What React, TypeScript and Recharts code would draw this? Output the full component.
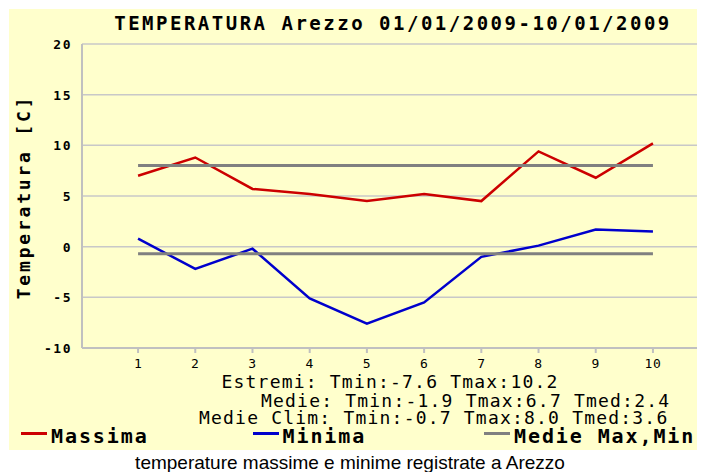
import { LineChart, Line, XAxis, YAxis, CartesianGrid, Legend } from "recharts";

// giorni 01/01/2009 - 10/01/2009
const giorni = [1, 2, 3, 4, 5, 6, 7, 8, 9, 10];
const massima = [7.0, 8.8, 5.7, 5.2, 4.5, 5.2, 4.5, 9.4, 6.8, 10.2];
const minima = [0.8, -2.2, -0.2, -5.1, -7.6, -5.5, -1.0, 0.1, 1.7, 1.5];
// medie climatiche
const medieClimMax = 8.0;
const medieClimMin = -0.7;
const yTicks = [-10, -5, 0, 5, 10, 15, 20];
const ordineLegenda = ["Massima", "Minima", "Medie Max,Min"];

const righeInfo = [
  "Estremi: Tmin:-7.6 Tmax:10.2",
  "Medie: Tmin:-1.9 Tmax:6.7 Tmed:2.4",
  "Medie Clim: Tmin:-0.7 Tmax:8.0 Tmed:3.6",
];

const data = giorni.map((g, i) => ({
  giorno: g,
  massima: massima[i],
  minima: minima[i],
  medieMax: medieClimMax,
  medieMin: medieClimMin,
}));

const mono = '"DejaVu Sans Mono", monospace';
const panelBg = "#FFFFCC";
const axisGray = "#c0c0c0";
const LEGEND_H = 24;

function XTick({ x, y, payload }: any) {
  return (
    <text x={x} y={y} dy={13} textAnchor="middle" fontFamily={mono} fontSize={13} letterSpacing={0.5} fill="#000">
      {payload.value}
    </text>
  );
}

function YTick({ y, payload }: any) {
  return (
    <text x={72} y={y} dy={5} textAnchor="end" fontFamily={mono} fontSize={13} fontWeight="bold" letterSpacing={1.5} fill="#000">
      {payload.value}
    </text>
  );
}

function LegendaContent({ payload }: any) {
  const items = (payload || [])
    .filter((p: any) => p.type !== "none")
    .sort((a: any, b: any) => ordineLegenda.indexOf(a.value) - ordineLegenda.indexOf(b.value));
  return (
    <div style={{ position: "relative", width: 680, height: LEGEND_H }}>
      {items.map((p: any, i: number) => (
        <div key={p.value} style={{ position: "absolute", left: i * 231.5, top: 0 }}>
          <span
            style={{ position: "absolute", left: 0, top: 6, width: 26, height: 3, background: p.color }}
          />
          <span
            style={{
              position: "absolute",
              left: 30,
              top: 0,
              whiteSpace: "nowrap",
              fontFamily: mono,
              fontWeight: "bold",
              fontSize: 20,
              lineHeight: "20px",
              letterSpacing: 1.9,
              color: "#000",
            }}
          >
            {p.value}
          </span>
        </div>
      ))}
    </div>
  );
}

export default function App() {
  return (
    <div style={{ position: "absolute", left: 0, top: 0, width: 701, height: 472, background: "#fff" }}>
      <div style={{ position: "absolute", left: 9, top: 9, width: 688, height: 441, background: panelBg }} />
      <div style={{ position: "absolute", left: 0, top: 0 }}>
        <LineChart width={701} height={472} data={data} margin={{ top: 44, right: 4, left: 0, bottom: 0 }}>
          <CartesianGrid vertical={false} stroke="#c8c8c8" strokeWidth={1.5} />
          <XAxis
            dataKey="giorno"
            type="number"
            domain={[0.02, 10.77]}
            allowDataOverflow
            ticks={giorni}
            interval={0}
            height={124 - LEGEND_H}
            tickSize={5}
            tickMargin={2}
            axisLine={{ stroke: axisGray, strokeWidth: 2 }}
            tickLine={{ stroke: axisGray, strokeWidth: 2 }}
            tick={<XTick />}
          />
          <YAxis
            type="number"
            domain={[-10, 20]}
            ticks={yTicks}
            interval={0}
            width={82}
            tickLine={false}
            axisLine={{ stroke: axisGray, strokeWidth: 2 }}
            tick={<YTick />}
          />
          <Line
            dataKey="massima"
            name="Massima"
            type="linear"
            stroke="#cc0000"
            strokeWidth={2.5}
            dot={false}
            activeDot={false}
            isAnimationActive={false}
          />
          <Line
            dataKey="minima"
            name="Minima"
            type="linear"
            stroke="#0000cc"
            strokeWidth={2.5}
            dot={false}
            activeDot={false}
            isAnimationActive={false}
          />
          <Line
            dataKey="medieMax"
            name="Medie Max,Min"
            type="linear"
            stroke="#808080"
            strokeWidth={3}
            dot={false}
            activeDot={false}
            isAnimationActive={false}
          />
          <Line
            dataKey="medieMin"
            name="Medie Min"
            legendType="none"
            type="linear"
            stroke="#808080"
            strokeWidth={3}
            dot={false}
            activeDot={false}
            isAnimationActive={false}
          />
          <Legend
            content={<LegendaContent />}
            wrapperStyle={{ left: 21, top: 426, width: 680, height: LEGEND_H }}
          />
          <text x={393} y={30} textAnchor="middle" fontFamily={mono} fontWeight="bold" fontSize={19} letterSpacing={2.5} fill="#000">
            TEMPERATURA Arezzo 01/01/2009-10/01/2009
          </text>
          <text
            x={23}
            y={197}
            transform="rotate(-90, 23, 197)"
            textAnchor="middle"
            dominantBaseline="central"
            fontFamily={mono}
            fontWeight="bold"
            fontSize={18}
            letterSpacing={2.8}
            fill="#000"
          >
            Temperatura [C]
          </text>
          <text x={221.5} y={388} fontFamily={mono} fontSize={18} letterSpacing={1.2} fill="#000">
            {righeInfo[0]}
          </text>
          <text x={261} y={407} fontFamily={mono} fontSize={18} letterSpacing={1.2} fill="#000">
            {righeInfo[1]}
          </text>
          <text x={199} y={424} fontFamily={mono} fontSize={18} letterSpacing={1.2} fill="#000">
            {righeInfo[2]}
          </text>
          <text x={350} y={469} textAnchor="middle" fontFamily='"Liberation Sans", Arial, sans-serif' fontSize={19} fill="#000">
            temperature massime e minime registrate a Arezzo
          </text>
        </LineChart>
      </div>
    </div>
  );
}
